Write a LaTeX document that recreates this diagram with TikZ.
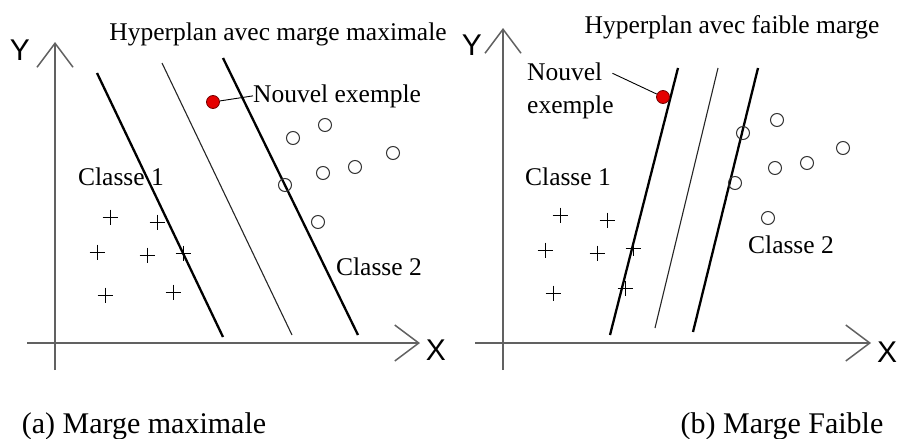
\documentclass[tikz,border=0pt]{standalone}
\usepackage{fontspec}
\setmainfont{Liberation Serif}
\newfontfamily\axisfont{Liberation Sans}
\usetikzlibrary{arrows.meta}
\tikzset{
  axis/.style={draw=black!62, line width=1.7pt,
    -{Straight Barb[length=24pt,width=36pt,line width=1.5pt]}},
  axislabel/.style={font=\axisfont\fontsize{30}{30}\selectfont, inner sep=0pt, anchor=base},
  txt/.style={inner sep=0pt, anchor=base},
  caption/.style={inner sep=0pt, anchor=base, font=\fontsize{30}{34}\selectfont},
  thickplane/.style={line width=2.3pt},
  thinplane/.style={line width=1.1pt, draw=black!85},
  plusmark/.style={line width=1pt},
  ringmark/.style={line width=1pt, draw=black!80},
  newdot/.style={circle, fill=red!90!black, draw=red!45!black, line width=0.8pt,
    inner sep=0pt, minimum size=13pt},
  leader/.style={line width=0.9pt}
}
\begin{document}
\begin{tikzpicture}[x=1pt, y=-1pt, font=\fontsize{25.5}{30}\selectfont]
  \useasboundingbox (0,0) rectangle (898,439);

  % (a) marge maximale
  \coordinate (aYbot) at (55,370);
  \coordinate (aYtop) at (55,42);
  \coordinate (aXbeg) at (27,343);
  \coordinate (aXtip) at (420,343);
  \draw[axis] (aYbot) -- (aYtop);
  \draw[axis] (aXbeg) -- (aXtip);
  \node[axislabel] (aY) at (20,60) {Y};
  \node[axislabel] (aX) at (436,360) {X};

  \coordinate (aP1) at (97,73);   \coordinate (aQ1) at (223,337);
  \coordinate (aP2) at (162,63);  \coordinate (aQ2) at (292,335);
  \coordinate (aP3) at (223,58);  \coordinate (aQ3) at (358,335);
  \draw[thickplane] (aP1) -- (aQ1);
  \draw[thinplane] (aP2) -- (aQ2);
  \draw[thickplane] (aP3) -- (aQ3);

  \foreach \px/\py in {110/217, 157/222, 97/252, 147/255, 183/253, 105/295, 173/292}
    \draw[plusmark] (\px-7.5,\py) -- (\px+7.5,\py) (\px,\py-7.5) -- (\px,\py+7.5);
  \foreach \px/\py in {293/138, 325/125, 393/153, 355/167, 323/173, 285/185, 318/222}
    \draw[ringmark] (\px,\py) circle[radius=6.5];

  \node[newdot] (aDot) at (213,102) {};
  \node[txt, anchor=base west] (aNew) at (253,102) {Nouvel exemple};
  \draw[leader] (aDot) -- (aNew.west);

  \node[txt] (aTitle) at (278,40) {Hyperplan avec marge maximale};
  \node[txt] (aC1) at (121,185) {Classe 1};
  \node[txt] (aC2) at (379,275) {Classe 2};
  \node[caption] (aCap) at (144,433) {(a) Marge maximale};

  % (b) marge faible
  \coordinate (bYbot) at (503,370);
  \coordinate (bYtop) at (503,28);
  \coordinate (bXbeg) at (475,343);
  \coordinate (bXtip) at (871,343);
  \draw[axis] (bYbot) -- (bYtop);
  \draw[axis] (bXbeg) -- (bXtip);
  \node[axislabel] (bY) at (472,55) {Y};
  \node[axislabel] (bX) at (887,362) {X};

  \coordinate (bP1) at (678,68);  \coordinate (bQ1) at (610,335);
  \coordinate (bP2) at (718,68);  \coordinate (bQ2) at (655,328);
  \coordinate (bP3) at (758,68);  \coordinate (bQ3) at (693,332);
  \draw[thickplane] (bP1) -- (bQ1);
  \draw[thinplane] (bP2) -- (bQ2);
  \draw[thickplane] (bP3) -- (bQ3);

  \foreach \px/\py in {560/215, 607/220, 545/250, 597/253, 633/248, 553/293, 625/288}
    \draw[plusmark] (\px-7.5,\py) -- (\px+7.5,\py) (\px,\py-7.5) -- (\px,\py+7.5);
  \foreach \px/\py in {777/120, 743/133, 843/148, 807/163, 775/168, 735/183, 768/218}
    \draw[ringmark] (\px,\py) circle[radius=6.5];

  \node[newdot] (bDot) at (663,97) {};
  \node[txt, anchor=base west] (bNew1) at (527,80) {Nouvel};
  \node[txt, anchor=base west] (bNew2) at (527,113) {exemple};
  \draw[leader] ([xshift=10pt,yshift=-2pt]bNew1.east) -- (bDot);

  \node[txt] (bTitle) at (732,33) {Hyperplan avec faible marge};
  \node[txt] (bC1) at (568,185) {Classe 1};
  \node[txt] (bC2) at (791,253) {Classe 2};
  \node[caption] (bCap) at (782,433) {(b) Marge Faible};
\end{tikzpicture}
\end{document}
